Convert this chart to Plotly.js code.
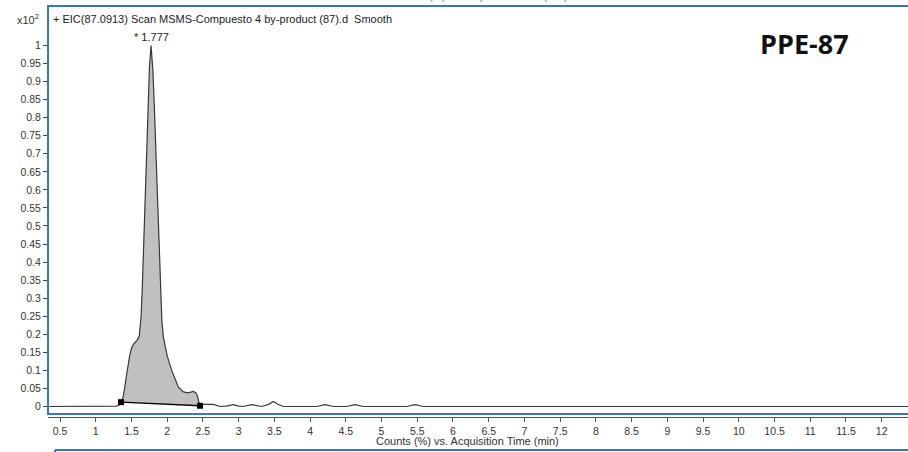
<!DOCTYPE html>
<html>
<head>
<meta charset="utf-8">
<script src="https://cdn.plot.ly/plotly-3.0.1.min.js"></script>
<style>html,body{margin:0;padding:0;background:#fff;}#chart{width:908px;height:452px;}</style>
</head>
<body>
<div id="chart"></div>
<script>
// Chromatogram: acquisition time (min) vs counts (x10^2)
var timeMin = [0.35, 1.0, 1.29, 1.33, 1.354, 1.386, 1.41, 1.442, 1.475, 1.503, 1.53, 1.55, 1.58, 1.61, 1.635, 1.652, 1.68, 1.699, 1.727, 1.752, 1.774, 1.80, 1.82, 1.853, 1.876, 1.89, 1.905, 1.925, 1.946, 2.0, 2.063, 2.11, 2.156, 2.221, 2.28, 2.33, 2.366, 2.40, 2.422, 2.44, 2.46, 2.506, 2.646, 2.739, 2.83, 2.926, 3.0, 3.066, 3.183, 3.323, 3.42, 3.486, 3.55, 3.625, 4.093, 4.209, 4.325, 4.512, 4.629, 4.745, 5.352, 5.468, 5.585, 12.37];
var counts = [0, 0, 0.001, 0.005, 0.012, 0.028, 0.055, 0.100, 0.140, 0.163, 0.173, 0.178, 0.184, 0.196, 0.25, 0.331, 0.517, 0.647, 0.833, 0.94, 1.0, 0.93, 0.833, 0.647, 0.517, 0.43, 0.32, 0.24, 0.193, 0.14, 0.100, 0.074, 0.054, 0.041, 0.038, 0.040, 0.042, 0.038, 0.030, 0.015, 0.003, 0.006, 0.006, 0.0, 0.001, 0.005, 0.001, 0.0, 0.005, 0.0, 0.006, 0.014, 0.006, 0.0, 0, 0.005, 0, 0, 0.005, 0, 0, 0.005, 0, 0];
// Integration baseline (start / end points of the integrated peak)
var integTime = [1.354, 2.46];
var integCounts = [0.012, 0.002];
// Peak label
var peakTime = [1.777];
var peakCounts = [1.0];
var peakLabel = ["* 1.777"];
// Ticks
var xTickVals = [0.5,1,1.5,2,2.5,3,3.5,4,4.5,5,5.5,6,6.5,7,7.5,8,8.5,9,9.5,10,10.5,11,11.5,12];
var yTickVals = [0,0.05,0.1,0.15,0.2,0.25,0.3,0.35,0.4,0.45,0.5,0.55,0.6,0.65,0.7,0.75,0.8,0.85,0.9,0.95,1];
var yTickText = ["0","0.05","0.1","0.15","0.2","0.25","0.3","0.35","0.4","0.45","0.5","0.55","0.6","0.65","0.7","0.75","0.8","0.85","0.9","0.95","1"];
var headerText = "+ EIC(87.0913) Scan MSMS-Compuesto 4 by-product (87).d&nbsp; Smooth";
var sampleName = "PPE-87";
var xTitle = "Counts (%) vs. Acquisition Time (min)";

// Build filled area polygon: curve within integration window, then baseline back
var polyX = [], polyY = [];
for (var i = 0; i < timeMin.length; i++) {
  if (timeMin[i] >= integTime[0] && timeMin[i] <= integTime[1]) {
    polyX.push(timeMin[i]); polyY.push(counts[i]);
  }
}
polyX.push(integTime[1]); polyY.push(integCounts[1]);
polyX.push(integTime[0]); polyY.push(integCounts[0]);

var BLUE = '#3E72C8';
var FONT = 'Liberation Sans, Arial, sans-serif';

var traces = [
  {x: polyX, y: polyY, type: 'scatter', mode: 'lines', fill: 'toself', fillcolor: '#c0c0c0', line: {width: 0}, hoverinfo: 'skip'},
  {x: timeMin, y: counts, type: 'scatter', mode: 'lines', line: {color: '#383838', width: 1.2}},
  {x: integTime, y: integCounts, type: 'scatter', mode: 'lines+markers', line: {color: '#000', width: 1.3}, marker: {symbol: 'square', size: 6, color: '#000'}}
];

var plotH = 452 - 6 - 35;
function py(pix) { return (417 - pix) / plotH; }
function px(pix) { return (pix - 48) / 860; }

var layout = {
  width: 908, height: 452,
  margin: {l: 48, r: 0, t: 6, b: 35, pad: 0},
  paper_bgcolor: '#fff', plot_bgcolor: '#fff',
  showlegend: false,
  font: {family: FONT, size: 10.5, color: '#333'},
  xaxis: {
    range: [0.332, 12.368], anchor: 'free', position: 0,
    tickvals: xTickVals, ticks: 'outside', ticklen: 4, tickcolor: '#555', tickwidth: 1,
    showline: true, linecolor: '#555', linewidth: 1,
    showgrid: false, zeroline: false,
    tickfont: {family: FONT, size: 10.5, color: '#333'}
  },
  yaxis: {
    range: [-0.0208, 1.1094], domain: [py(414), 1],
    tickvals: yTickVals, ticktext: yTickText,
    ticks: 'outside', ticklen: 4, tickcolor: '#444', tickwidth: 1,
    showline: false, showgrid: false, zeroline: false,
    tickfont: {family: FONT, size: 10.5, color: '#333'}
  },
  shapes: [
    {type: 'rect', xref: 'paper', yref: 'paper', x0: 0, x1: 1.05, y0: py(414), y1: 1, line: {color: BLUE, width: 2}},
    {type: 'line', xref: 'paper', yref: 'paper', x0: px(55), x1: 1.05, y0: py(450), y1: py(450), line: {color: BLUE, width: 2}},
    {type: 'line', xref: 'paper', yref: 'paper', x0: px(55), x1: px(55), y0: py(450), y1: py(460), line: {color: BLUE, width: 2}}
  ],
  annotations: [
    {x: px(51), y: py(19), xref: 'paper', yref: 'paper', xanchor: 'left', yanchor: 'middle', showarrow: false, text: headerText, font: {family: FONT, size: 11, color: '#222'}},
    {x: px(41), y: py(19), xref: 'paper', yref: 'paper', xanchor: 'right', yanchor: 'middle', showarrow: false, text: 'x10<sup>2</sup>', font: {family: FONT, size: 11, color: '#333'}},
    {x: peakTime[0], y: peakCounts[0], xref: 'x', yref: 'y', xanchor: 'center', yanchor: 'bottom', yshift: 0, showarrow: false, text: peakLabel[0], font: {family: FONT, size: 11, color: '#222'}},
    {x: px(804), y: py(43), xref: 'paper', yref: 'paper', xanchor: 'center', yanchor: 'middle', showarrow: false, text: '<b>' + sampleName + '</b>', font: {family: 'Open Sans, sans-serif', size: 27, color: '#111'}},
    {x: px(467), y: py(441), xref: 'paper', yref: 'paper', xanchor: 'center', yanchor: 'middle', showarrow: false, text: xTitle, font: {family: FONT, size: 11, color: '#333'}},
    {x: px(480), y: py(4), xref: 'paper', yref: 'paper', xanchor: 'center', yanchor: 'bottom', showarrow: false, text: xTitle, font: {family: FONT, size: 10.5, color: '#777'}}
  ]
};

Plotly.newPlot('chart', traces, layout, {displayModeBar: false, staticPlot: true});
</script>
</body>
</html>
